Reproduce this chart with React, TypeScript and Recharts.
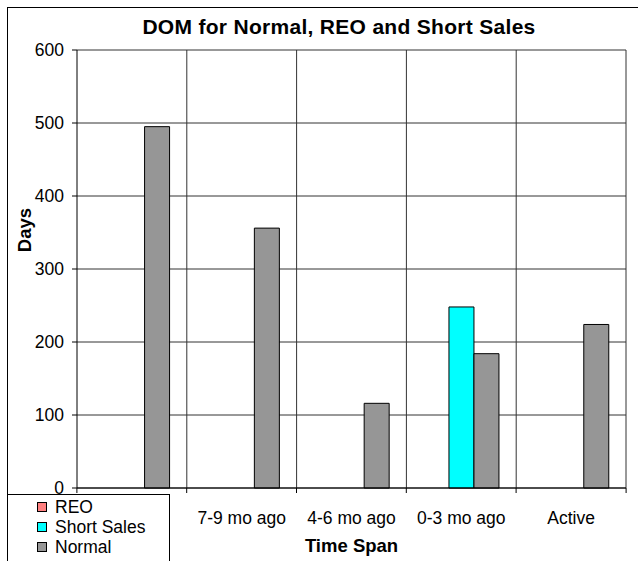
import React from 'react';
import { BarChart, Bar, XAxis, YAxis, CartesianGrid, Legend } from 'recharts';

const categories = ['10-12 mo ago', '7-9 mo ago', '4-6 mo ago', '0-3 mo ago', 'Active'];
const reoDays = [0, 0, 0, 0, 0];
const shortSaleDays = [0, 0, 0, 248, 0];
const normalDays = [495, 356, 116, 184, 224];
const yTicks = [0, 100, 200, 300, 400, 500, 600];

const FONT = 'Arial, "Liberation Sans", sans-serif';
const TICK_FONT = 17.5;

const SERIES = [
  { key: 'REO', color: '#ff8080' },
  { key: 'Short Sales', color: '#00ffff' },
  { key: 'Normal', color: '#969696' },
];

const data = categories.map((name, i) => ({
  name,
  REO: reoDays[i],
  'Short Sales': shortSaleDays[i],
  Normal: normalDays[i],
}));

const BAND = 110; // width of one category slot

// category label plus Excel-style tick marks on the slot edges.
// the first label sits under the legend box, as in the original, so it is not drawn
const XTick = ({ x, y, payload, index }: any) => (
  <g>
    <line x1={x - BAND / 2} x2={x - BAND / 2} y1={y} y2={y + 5} stroke="#000" />
    {index === categories.length - 1 && (
      <line x1={x + BAND / 2} x2={x + BAND / 2} y1={y} y2={y + 5} stroke="#000" />
    )}
    {index > 0 && (
      <text x={x} y={y + 36} textAnchor="middle" fontSize={TICK_FONT} fontFamily={FONT} fill="#000">
        {payload.value}
      </text>
    )}
  </g>
);

const DaysLabel = () => (
  <text
    x={31}
    y={230}
    transform="rotate(-90 31 230)"
    textAnchor="middle"
    fontSize={18.5}
    fontWeight="bold"
    fontFamily={FONT}
    fill="#000"
  >
    Days
  </text>
);

const LegendBox = () => (
  <div
    style={{
      width: 163,
      height: 70,
      boxSizing: 'border-box',
      border: '1px solid #000',
      borderBottom: 'none',
      background: '#fff',
      padding: '2px 0 0 29px',
      fontFamily: FONT,
      fontSize: 17.5,
      lineHeight: '20px',
      color: '#000',
      textAlign: 'left',
    }}
  >
    {SERIES.map((s) => (
      <div key={s.key} style={{ display: 'flex', alignItems: 'center' }}>
        <span
          style={{
            display: 'inline-block',
            width: 8,
            height: 8,
            border: '1px solid #000',
            background: s.color,
            marginRight: 8,
          }}
        />
        {s.key}
      </div>
    ))}
  </div>
);

export default function App() {
  return (
    <div style={{ position: 'absolute', left: 0, top: 0, width: 638, height: 561, background: '#fff' }}>
      <div
        style={{
          position: 'absolute',
          left: 7,
          top: 7,
          width: 631,
          height: 554,
          borderTop: '1.5px solid #000',
          borderLeft: '1.5px solid #000',
          boxSizing: 'border-box',
        }}
      />
      <div
        style={{
          position: 'absolute',
          left: 119,
          width: 440,
          top: 15,
          textAlign: 'center',
          fontFamily: FONT,
          fontWeight: 'bold',
          fontSize: 21,
          letterSpacing: 0.3,
          color: '#000',
        }}
      >
        DOM for Normal, REO and Short Sales
      </div>
      <BarChart
        width={638}
        height={561}
        data={data}
        margin={{ top: 50, right: 12, left: 17, bottom: 0 }}
        barCategoryGap="16%"
        barGap={0}
      >
        <CartesianGrid
          stroke="#333"
          verticalCoordinatesGenerator={({ offset }: any) =>
            categories.map((_, i) => offset.left + ((i + 1) * offset.width) / categories.length)
          }
        />
        <XAxis
          dataKey="name"
          height={73}
          tickSize={0}
          tickMargin={0}
          tick={<XTick />}
          interval={0}
          axisLine={{ stroke: '#000' }}
          label={{ value: 'Time Span', position: 'insideBottom', offset: 9, fontSize: 18.5, fontWeight: 'bold', fontFamily: FONT, fill: '#000' }}
        />
        <YAxis
          width={60}
          domain={[0, 600]}
          ticks={yTicks}
          tickSize={5}
          tickMargin={8}
          interval={0}
          axisLine={{ stroke: '#000' }}
          tickLine={{ stroke: '#000' }}
          tick={{ fontSize: TICK_FONT, fontFamily: FONT, fill: '#000' }}
          label={<DaysLabel />}
        />
        <Legend
          layout="horizontal"
          verticalAlign="middle"
          align="center"
          content={<LegendBox />}
          wrapperStyle={{ position: 'absolute', left: 7, top: 494, width: 163, bottom: 'auto' }}
        />
        {SERIES.map((s) => (
          <Bar key={s.key} dataKey={s.key} fill={s.color} stroke="#000" strokeWidth={1} isAnimationActive={false} />
        ))}
      </BarChart>
    </div>
  );
}
